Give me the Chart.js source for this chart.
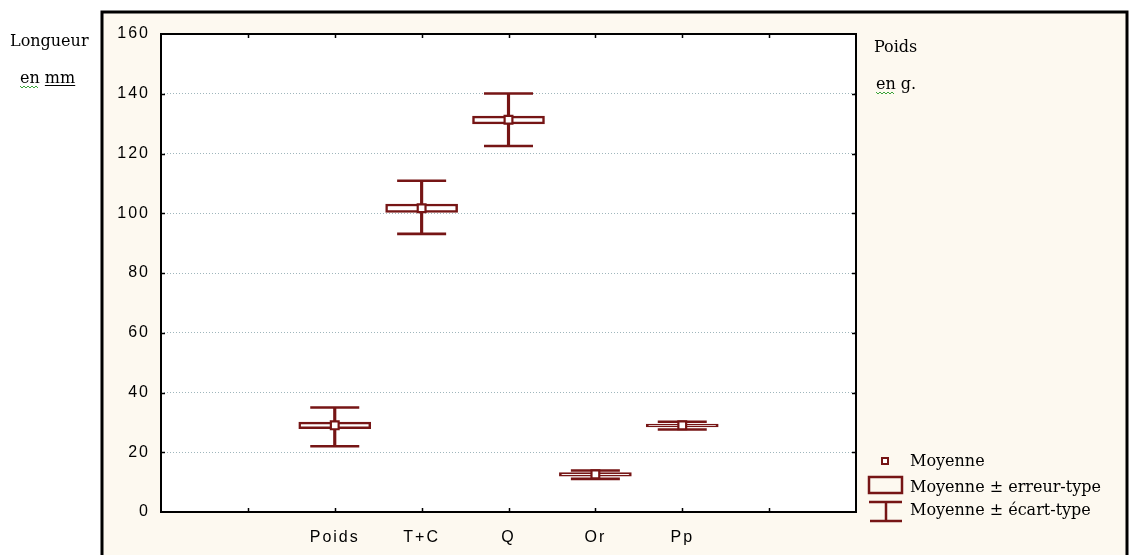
<!DOCTYPE html>
<html><head><meta charset="utf-8">
<script src="https://cdn.jsdelivr.net/npm/chart.js@4"></script>
<style>html,body{margin:0;padding:0;background:#fff;overflow:hidden}#wrap{position:relative;width:1131px;height:555px}</style>
</head><body><div id="wrap"><canvas id="c" width="1131" height="555"></canvas></div>
<script>
// ---- data ----
const categories = ['Poids', 'T+C', 'Q', 'Or', 'Pp'];
const means  = [29.0, 101.7, 131.3, 12.6, 29.0];
const seLow  = [27.9, 100.3, 129.9, 12.0, 28.5];
const seHigh = [30.1, 103.1, 132.5, 13.2, 29.4];
const sdLow  = [22.0, 93.1, 122.5, 11.1, 27.6];
const sdHigh = [35.0, 110.9, 140.1, 13.9, 30.2];
const yTickValues = [0, 20, 40, 60, 80, 100, 120, 140, 160];
const leftTitle = ['Longueur', 'en mm'];
const rightTitle = ['Poids', 'en g.'];
const legendLabels = ['Moyenne', 'Moyenne \u00B1 erreur-type', 'Moyenne \u00B1 \u00E9cart-type'];

// category slots: two empty slots before, two after
const pad = arr => [null, null, ...arr, null, null];
const labels = pad(categories).map(v => v === null ? '' : v);

const MAROON = '#761515';
const CREAM = '#fdf9f0';
const SERIF = '"DejaVu Serif", "Liberation Serif", serif';

function squiggle(ctx, x0, x1, y) {
  ctx.save();
  ctx.strokeStyle = '#3aa33a'; ctx.lineWidth = 1;
  ctx.beginPath();
  let up = true;
  for (let x = x0; x <= x1; x += 2) { ctx.lineTo(x, up ? y : y + 2); up = !up; }
  ctx.stroke();
  ctx.restore();
}

const framePlugin = {
  id: 'frame',
  beforeDraw(chart) {
    const ctx = chart.ctx, a = chart.chartArea;
    ctx.save();
    ctx.fillStyle = '#fff'; ctx.fillRect(0, 0, chart.width, chart.height);
    ctx.fillStyle = CREAM; ctx.fillRect(102, 12, 1025, 600);
    ctx.strokeStyle = '#000'; ctx.lineWidth = 3; ctx.strokeRect(102, 12, 1025, 600);
    ctx.fillStyle = '#fff'; ctx.fillRect(a.left, a.top, a.right - a.left, a.bottom - a.top);
    ctx.restore();
    ctx.letterSpacing = '2px';
  },
  beforeDatasetsDraw(chart) { chart.ctx.letterSpacing = '0px'; },
  afterDraw(chart) {
    const ctx = chart.ctx, a = chart.chartArea;
    const xs = chart.scales.x, ys = chart.scales.y;
    ctx.save();
    ctx.letterSpacing = '0px';
    // plot border
    ctx.strokeStyle = '#000'; ctx.lineWidth = 2;
    ctx.strokeRect(a.left, a.top, a.right - a.left, a.bottom - a.top);
    // inward tick marks
    ctx.lineWidth = 1.5;
    ctx.beginPath();
    for (let i = 1; i < labels.length - 1; i++) {
      const px = Math.round(xs.getPixelForValue(i)) + 0.5;
      ctx.moveTo(px, a.bottom); ctx.lineTo(px, a.bottom - 4);
      ctx.moveTo(px, a.top); ctx.lineTo(px, a.top + 4);
    }
    yTickValues.slice(1, -1).forEach(v => {
      const py = Math.round(ys.getPixelForValue(v)) + 0.5;
      ctx.moveTo(a.left, py); ctx.lineTo(a.left + 4, py);
      ctx.moveTo(a.right, py); ctx.lineTo(a.right - 4, py);
    });
    ctx.stroke();

    // titles
    ctx.fillStyle = '#000';
    ctx.font = '16px ' + SERIF;
    ctx.textBaseline = 'alphabetic'; ctx.textAlign = 'left';
    ctx.fillText(leftTitle[0], 10, 46);
    ctx.fillText(leftTitle[1], 20, 83);
    const enW = ctx.measureText('en').width;
    const fullW = ctx.measureText(leftTitle[1]).width;
    const mmW = ctx.measureText('mm').width;
    ctx.strokeStyle = '#000'; ctx.lineWidth = 1;
    ctx.beginPath(); ctx.moveTo(20 + fullW - mmW, 85.5); ctx.lineTo(20 + fullW, 85.5); ctx.stroke();
    squiggle(ctx, 20, 20 + enW, 86);
    ctx.fillText(rightTitle[0], 874, 52);
    ctx.fillText(rightTitle[1], 876, 89);
    squiggle(ctx, 876, 876 + ctx.measureText('en').width, 92);

    // legend
    ctx.strokeStyle = MAROON; ctx.lineWidth = 2;
    ctx.fillStyle = '#fff';
    ctx.fillRect(882, 458, 6, 6); ctx.strokeRect(882, 458, 6, 6);
    ctx.lineWidth = 2.5;
    ctx.strokeRect(869, 477, 33, 16);
    ctx.beginPath();
    ctx.moveTo(869, 502); ctx.lineTo(902, 502);
    ctx.moveTo(886, 502); ctx.lineTo(886, 521);
    ctx.moveTo(870, 521); ctx.lineTo(902, 521);
    ctx.stroke();
    ctx.fillStyle = '#000';
    ctx.font = '16px ' + SERIF;
    ctx.fillText(legendLabels[0], 910, 466);
    ctx.fillText(legendLabels[1], 910, 492);
    ctx.fillText(legendLabels[2], 910, 515);
    ctx.restore();
  }
};

const tickFont = { family: '"Liberation Sans", Arial, sans-serif', size: 16 };

new Chart(document.getElementById('c'), {
  type: 'bar',
  data: {
    labels: labels,
    datasets: [
      { // mean marker
        type: 'line', label: 'Moyenne', data: pad(means), showLine: false,
        pointStyle: 'rect', pointRadius: 5.5, pointBorderWidth: 2.2,
        pointBackgroundColor: '#fff', pointBorderColor: MAROON, order: 0
      },
      { // box: mean +/- standard error
        type: 'bar', label: 'Moyenne ± erreur-type',
        data: pad(seLow.map((l, i) => [l, seHigh[i]])),
        backgroundColor: '#fff', borderColor: MAROON, borderWidth: 2.5, borderSkipped: false,
        barThickness: 72, grouped: false, order: 1
      },
      { // upper cap of standard deviation
        type: 'line', label: 'sd high', data: pad(sdHigh), showLine: false,
        pointStyle: 'line', pointRadius: 24.5, pointBorderWidth: 2.6,
        pointBorderColor: MAROON, order: 2
      },
      { // lower cap
        type: 'line', label: 'sd low', data: pad(sdLow), showLine: false,
        pointStyle: 'line', pointRadius: 24.5, pointBorderWidth: 2.6,
        pointBorderColor: MAROON, order: 2
      },
      { // whisker stem
        type: 'bar', label: 'Moyenne ± écart-type',
        data: pad(sdLow.map((l, i) => [l, sdHigh[i]])),
        backgroundColor: MAROON, borderWidth: 0, barThickness: 2.5, grouped: false, order: 3
      }
    ]
  },
  options: {
    responsive: false, animation: false, devicePixelRatio: 1,
    layout: { padding: { left: 101, right: 275, top: 34, bottom: 0 } },
    plugins: { legend: { display: false }, tooltip: { enabled: false } },
    scales: {
      x: {
        type: 'category', offset: false,
        grid: { display: false, drawTicks: false },
        border: { display: false },
        ticks: { autoSkip: false, maxRotation: 0, color: '#000', font: tickFont, padding: 16 },
        afterFit: s => { s.height = 43; }
      },
      y: {
        min: 0, max: 160,
        afterBuildTicks: s => { s.ticks = yTickValues.map(v => ({ value: v })); },
        grid: {
          drawTicks: false, lineWidth: 1,
          color: c => (c.tick && (c.tick.value === 0 || c.tick.value === 160)) ? 'rgba(0,0,0,0)' : '#9fb6bc'
        },
        border: { display: false, dash: [1, 2] },
        ticks: { color: '#000', font: tickFont, padding: 11 },
        afterFit: s => { s.width = 60; }
      }
    }
  },
  plugins: [framePlugin]
});
</script>
</body></html>
